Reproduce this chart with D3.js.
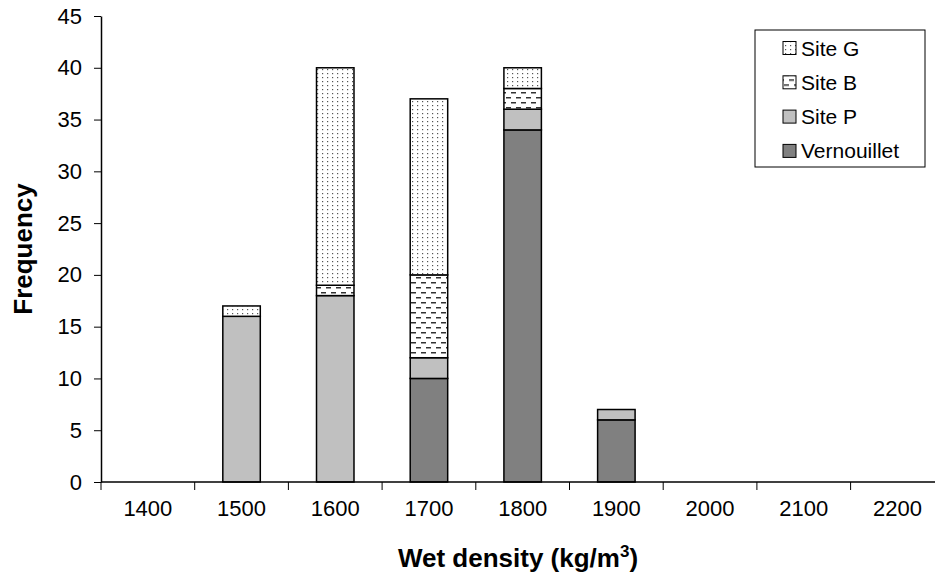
<!DOCTYPE html>
<html>
<head>
<meta charset="utf-8">
<script src="https://cdn.jsdelivr.net/npm/d3@7"></script>
<style>
  body { margin: 0; background: #fff; }
  svg { font-family: Arial, "Liberation Sans", sans-serif; }
</style>
</head>
<body>
<div id="chart"></div>
<script>
// data
const categories = ["1400", "1500", "1600", "1700", "1800", "1900", "2000", "2100", "2200"];
const seriesNames = ["Vernouillet", "Site P", "Site B", "Site G"];
const vernouillet = [0, 0, 0, 10, 34, 6, 0, 0, 0];
const siteP = [0, 16, 18, 2, 2, 1, 0, 0, 0];
const siteB = [0, 0, 1, 8, 2, 0, 0, 0, 0];
const siteG = [0, 1, 21, 17, 2, 0, 0, 0, 0];
const yTicks = [0, 5, 10, 15, 20, 25, 30, 35, 40, 45];

const width = 935, height = 579;
const plotLeft = 101, plotTop = 16, plotBottom = 482, step = 93.7;

// table for d3.stack
const rows = categories.map((c, i) => ({
    cat: c,
    "Vernouillet": vernouillet[i],
    "Site P": siteP[i],
    "Site B": siteB[i],
    "Site G": siteG[i]
}));

const svg = d3.select("#chart").append("svg")
    .attr("width", width)
    .attr("height", height);

//patterns for the two white series
const defs = svg.append("defs");
const dots = defs.append("pattern")
    .attr("id", "dots")
    .attr("patternUnits", "userSpaceOnUse")
    .attr("width", 5).attr("height", 4);
dots.append("rect").attr("width", 5).attr("height", 4).attr("fill", "#fff");
dots.append("rect").attr("x", 2).attr("y", 1).attr("width", 1.2).attr("height", 1.2).attr("fill", "#555");

const dashes = defs.append("pattern")
    .attr("id", "dashes")
    .attr("patternUnits", "userSpaceOnUse")
    .attr("width", 10).attr("height", 10);
dashes.append("rect").attr("width", 10).attr("height", 10).attr("fill", "#fff");
dashes.append("rect").attr("x", 1).attr("y", 2).attr("width", 5).attr("height", 1.5).attr("fill", "#333");
dashes.append("rect").attr("x", 6).attr("y", 7).attr("width", 5).attr("height", 1.5).attr("fill", "#333");
dashes.append("rect").attr("x", -4).attr("y", 7).attr("width", 5).attr("height", 1.5).attr("fill", "#333");

const fills = {
    "Vernouillet": "#808080",
    "Site P": "#c0c0c0",
    "Site B": "url(#dashes)",
    "Site G": "url(#dots)"
};

const x = d3.scaleBand()
    .domain(categories)
    .range([plotLeft, plotLeft + step * categories.length])
    .padding(0);

const y = d3.scaleLinear()
    .domain([0, 45])
    .range([plotBottom, plotTop]);

const stack = d3.stack().keys(seriesNames);
const layers = stack(rows);

// bars
const barW = x.bandwidth() * 0.4;
svg.selectAll(".layer")
    .data(layers)
    .join("g")
    .attr("class", "layer")
    .attr("fill", d => fills[d.key])
    .selectAll("rect")
    .data(d => d.filter(s => s[1] - s[0] > 0))
    .join("rect")
    .attr("x", d => x(d.data.cat) + (x.bandwidth() - barW) / 2)
    .attr("y", d => y(d[1]))
    .attr("width", barW)
    .attr("height", d => y(d[0]) - y(d[1]))
    .attr("stroke", "#000")
    .attr("stroke-width", 1.5);

// y axis
const yAxis = svg.append("g")
    .attr("transform", `translate(${plotLeft},0)`)
    .call(d3.axisLeft(y).tickValues(yTicks).tickSize(7).tickSizeOuter(0).tickPadding(12));
yAxis.selectAll("text").attr("font-size", 22).attr("fill", "#000").attr("font-family", null);

// x axis: labels in the band centres, ticks on band edges
const xAxis = svg.append("g")
    .attr("transform", `translate(0,${plotBottom})`)
    .call(d3.axisBottom(x).tickSize(0).tickPadding(18));
xAxis.select(".domain").attr("d", `M${plotLeft},0H${width}`);
xAxis.selectAll("text").attr("font-size", 22).attr("fill", "#000").attr("font-family", null);
xAxis.selectAll(".edge")
    .data(categories)
    .join("line")
    .attr("class", "edge")
    .attr("x1", d => x(d)).attr("x2", d => x(d))
    .attr("y1", 0).attr("y2", 8)
    .attr("stroke", "#000");

svg.selectAll(".domain").attr("stroke", "#000").attr("stroke-width", 1.5);

// axis titles
svg.append("text")
    .attr("transform", `translate(32,${(plotTop + plotBottom) / 2}) rotate(-90)`)
    .attr("text-anchor", "middle")
    .attr("font-size", 26)
    .attr("font-weight", "bold")
    .text("Frequency");

const xt = svg.append("text")
    .attr("x", 518)
    .attr("y", 567)
    .attr("text-anchor", "middle")
    .attr("font-size", 26)
    .attr("font-weight", "bold");
xt.append("tspan").text("Wet density (kg/m");
xt.append("tspan").attr("font-size", 17).attr("dy", -10).text("3");
xt.append("tspan").attr("dy", 10).text(")");

// legend
const legend = svg.append("g");
legend.append("rect")
    .attr("x", 755).attr("y", 30)
    .attr("width", 170).attr("height", 137)
    .attr("fill", "#fff").attr("stroke", "#000");

const items = legend.selectAll(".item")
    .data(seriesNames.slice().reverse())
    .join("g")
    .attr("class", "item")
    .attr("transform", (d, i) => `translate(783,${48 + i * 34.3})`);
items.append("rect")
    .attr("x", 0).attr("y", -6.5)
    .attr("width", 13).attr("height", 13)
    .attr("fill", d => fills[d])
    .attr("stroke", "#000");
items.append("text")
    .attr("x", 18)
    .attr("dy", "0.36em")
    .attr("font-size", 21)
    .text(d => d);
</script>
</body>
</html>
